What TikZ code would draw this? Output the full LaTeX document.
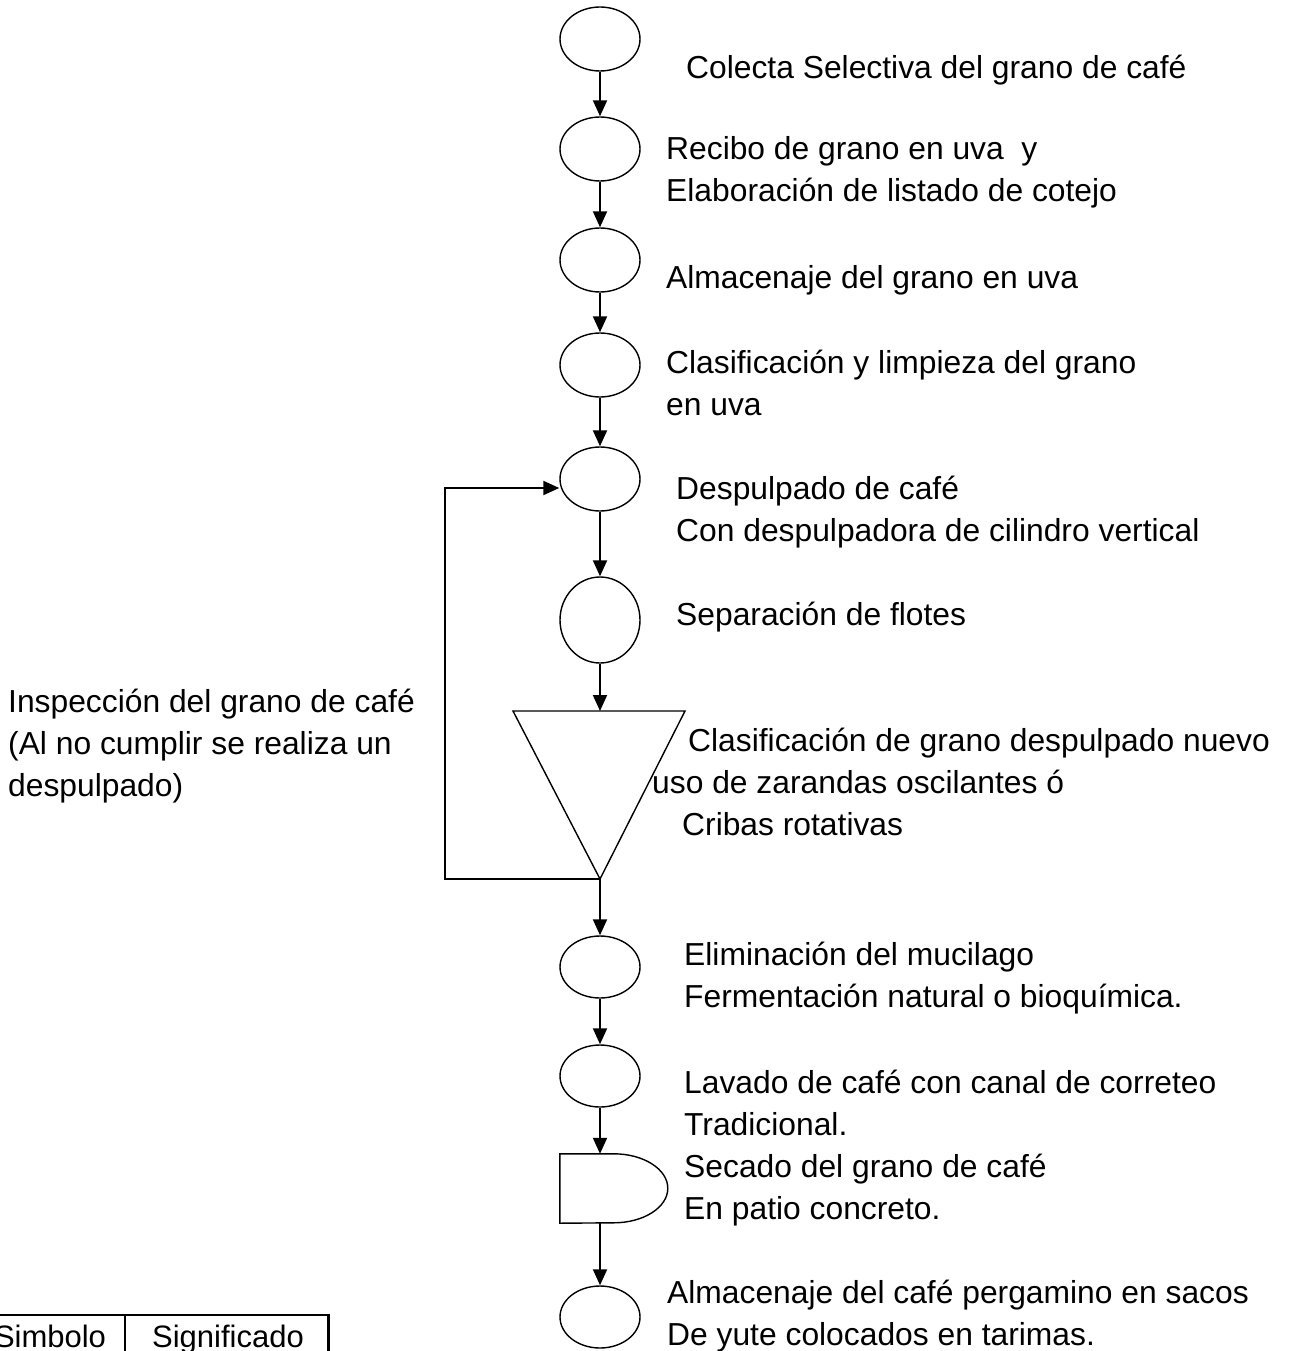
\documentclass[tikz,border=0pt]{standalone}
\usepackage{fontspec}
\setmainfont{Liberation Sans}
\usetikzlibrary{shapes.geometric,arrows.meta,calc}
\newcommand{\mylines}[1]{\begin{tabular}[t]{@{}l@{}}#1\end{tabular}}
\begin{document}
\begin{tikzpicture}[x=1pt,y=-1pt,
  proc/.style={draw, ellipse, line width=1.4pt, minimum width=80pt, minimum height=64pt, inner sep=0pt},
  lbl/.style={anchor=base west, inner sep=0pt, font=\fontsize{31.8}{42}\selectfont},
  tbl/.style={anchor=base, inner sep=0pt, font=\fontsize{31}{36}\selectfont},
  flow/.style={line width=2pt, -{Triangle[length=16pt,width=14pt]}},
  plainline/.style={line width=2pt},
  shapeline/.style={line width=1.4pt}]
\useasboundingbox (0,0) rectangle (1288,1351);
\clip (0,0) rectangle (1288,1351);

% process symbols
\node[proc] (e1) at (600,39) {};
\node[proc] (e2) at (600,149) {};
\node[proc] (e3) at (600,260) {};
\node[proc] (e4) at (600,365) {};
\node[proc] (e5) at (600,479) {};
\node[proc, minimum height=86pt] (e6) at (600,620) {};
\coordinate (tl) at (513,711);
\coordinate (tr) at (685,711);
\coordinate (ttop) at (600,711);
\coordinate (ta) at (600,879);
\draw[shapeline] (tl) -- (tr) -- (ta) -- cycle;
\node[proc, minimum height=62pt] (e7) at (600,967) {};
\node[proc, minimum height=62pt] (e8) at (600,1076) {};
\node[minimum width=108pt, minimum height=69pt, inner sep=0pt] (d) at (614,1188.5) {};
\draw[shapeline] (d.north west) -- ++(54,0)
   arc[start angle=-90, end angle=90, x radius=54, y radius=34.5]
   -- (d.south west) -- cycle;
\node[proc, minimum height=62pt] (e9) at (600,1317) {};

% connectors
\draw[flow] (e1.south) -- (e2.north);
\draw[flow] (e2.south) -- (e3.north);
\draw[flow] (e3.south) -- (e4.north);
\draw[flow] (e4.south) -- (e5.north);
\draw[flow] (e5.south) -- (e6.north);
\draw[flow] (e6.south) -- (ttop);
\draw[flow] (ta) -- (e7.north);
\draw[flow] (e7.south) -- (e8.north);
\draw[flow] (e8.south) -- (e8.south |- d.north);
\draw[flow] (e9.north |- d.south) -- (e9.north);
\coordinate (lp1) at (445,879);
\coordinate (lp2) at (445,488);
\draw[flow] (ta) -- (lp1) -- (lp2) -- (lp2 -| e5.west);

% labels
\node[lbl] (t1) at (686,79) {Colecta Selectiva del grano de café};
\node[lbl] (t2) at (666,160) {\mylines{Recibo de grano en uva\ \ y\\Elaboración de listado de cotejo}};
\node[lbl] (t3) at (666,288) {Almacenaje del grano en uva};
\node[lbl] (t4) at (666,373) {\mylines{Clasificación y limpieza del grano\\en uva}};
\node[lbl] (t5) at (676,499) {\mylines{Despulpado de café\\Con despulpadora de cilindro vertical}};
\node[lbl] (t6) at (676,625) {Separación de flotes};
\node[lbl] (t7) at (652,751) {\mylines{\hspace*{36pt}Clasificación de grano despulpado nuevo\\uso de zarandas oscilantes ó\\\hspace*{30pt}Cribas rotativas}};
\node[lbl] (t8) at (684,965) {\mylines{Eliminación del mucilago\\Fermentación natural o bioquímica.}};
\node[lbl] (t9) at (684,1093) {\mylines{Lavado de café con canal de correteo\\Tradicional.}};
\node[lbl] (t10) at (684,1177) {\mylines{Secado del grano de café\\En patio concreto.}};
\node[lbl] (t11) at (667,1303) {\mylines{Almacenaje del café pergamino en sacos\\De yute colocados en tarimas.}};
\node[lbl] (t12) at (8,712) {\mylines{Inspección del grano de café\\(Al no cumplir se realiza un\\despulpado)}};

% legend table (partly visible)
\draw[plainline] (0,1315) -- (330,1315);
\draw[plainline] (125,1315) -- (125,1351);
\draw[line width=3pt] (328,1315) -- (328,1351);
\node[tbl] (s1) at (50,1347) {Simbolo};
\node[tbl] (s2) at (228,1347) {Significado};
\end{tikzpicture}
\end{document}
